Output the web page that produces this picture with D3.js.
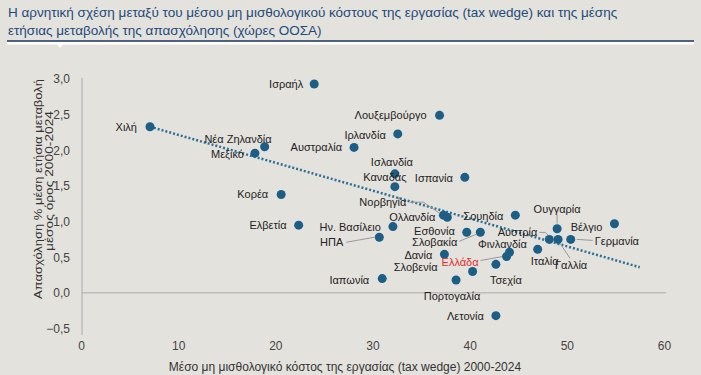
<!DOCTYPE html>
<html>
<head>
	<meta charset="utf-8">
	<title></title>
	<style type="text/css">
		body {
			margin: 0;
			background-color: #e4e2dd;
		}
		svg {
			display: block;
			background-color: #e4e2dd;
			font-family: 'Liberation Sans', Arial, sans-serif;
		}
		.title {
			font-size: 13.5px;
			fill: #1f4a7a;
		}
		.tick text {
			font-size: 12px;
			fill: #444;
		}
		.label {
			font-size: 11px;
			fill: #222;
		}
		.leader {
			stroke: #999;
			stroke-width: 1px;
			fill: none;
		}
	</style>
	<script type="text/javascript" src="https://cdn.jsdelivr.net/npm/d3@7"></script>
</head>
<body>
	<div id='chart'></div>
	<script type="text/javascript">
		var width = 701, height = 375;

		// data
		var countries = ['Χιλή','Ισραήλ','Νέα Ζηλανδία','Μεξικό','Αυστραλία','Ιρλανδία','Λουξεμβούργο','Ισλανδία','Καναδάς','Ισπανία',
			'Κορέα','Ελβετία','Ην. Βασίλειο','ΗΠΑ','Ιαπωνία','Νορβηγία','Ολλανδία','Σουηδία','Εσθονία','Σλοβακία',
			'Αυστρία','Ουγγαρία','Βέλγιο','Γερμανία','Γαλλία','Ιταλία','Φινλανδία','Ελλάδα','Δανία','Σλοβενία',
			'Τσεχία','Πορτογαλία','Λετονία'];
		var taxWedge = [7.1, 24.0, 18.9, 17.9, 28.1, 32.6, 36.9, 32.3, 32.3, 39.5,
			20.6, 22.4, 32.1, 30.7, 31.0, 37.3, 37.7, 44.7, 39.7, 41.1,
			48.2, 49.0, 54.9, 50.4, 49.1, 47.0, 44.1, 43.8, 37.4, 40.3,
			42.7, 38.6, 42.7];
		var employmentChange = [2.33, 2.93, 2.05, 1.96, 2.04, 2.23, 2.49, 1.67, 1.49, 1.62,
			1.38, 0.95, 0.93, 0.78, 0.20, 1.09, 1.06, 1.09, 0.85, 0.85,
			0.75, 0.90, 0.97, 0.75, 0.75, 0.61, 0.57, 0.51, 0.54, 0.30,
			0.40, 0.18, -0.32];
		var trendX = [7.1, 57.5];
		var trendY = [2.33, 0.36];
		var xTicks = [0, 10, 20, 30, 40, 50, 60];
		var yTicks = [-0.5, 0, 0.5, 1, 1.5, 2, 2.5, 3];

		// label placement: [dx, dy, anchor, leader points relative to dot]
		var labelPos = {
			'Χιλή': [-13, 0, 'end'],
			'Ισραήλ': [-11, 0, 'end'],
			'Νέα Ζηλανδία': [7, -8, 'end'],
			'Μεξικό': [-11, 1, 'end'],
			'Αυστραλία': [-12, 0, 'end'],
			'Ιρλανδία': [-12, 1, 'end'],
			'Λουξεμβούργο': [-13, 0, 'end'],
			'Ισλανδία': [-3, -12, 'middle'],
			'Καναδάς': [-10, -10, 'middle'],
			'Ισπανία': [-12, 1, 'end'],
			'Κορέα': [-13, 0, 'end'],
			'Ελβετία': [-12, 0, 'end'],
			'Ην. Βασίλειο': [-12, 0, 'end'],
			'ΗΠΑ': [-36, 5, 'end', [[-33, 5], [-5, 0]]],
			'Ιαπωνία': [-13, 1, 'end'],
			'Νορβηγία': [-37, -13, 'end', [[-34, -13], [-20, -13], [-4, -2]]],
			'Ολλανδία': [-12, 0, 'end'],
			'Σουηδία': [-12, 1, 'end'],
			'Εσθονία': [-12, -1, 'end'],
			'Σλοβακία': [-23, 10, 'end', [[-21, 9], [-4, 2]]],
			'Αυστρία': [-12, -7, 'end', [[-10, -7], [-4, -7], [-1, -4]]],
			'Ουγγαρία': [0, -20, 'middle', [[0, -14], [0, -5]]],
			'Βέλγιο': [-12, 3, 'end'],
			'Γερμανία': [24, 2, 'start', [[6, 0], [22, 1]]],
			'Γαλλία': [13, 26, 'middle', [[2, 4], [12, 19]]],
			'Ιταλία': [7, 12, 'middle'],
			'Φινλανδία': [-7, -8, 'middle'],
			'Ελλάδα': [-28, 5, 'end', [[-26, 4], [-4, 0]]],
			'Δανία': [-12, 1, 'end'],
			'Σλοβενία': [-35, -4, 'end'],
			'Τσεχία': [10, 16, 'middle'],
			'Πορτογαλία': [-4, 16, 'middle'],
			'Λετονία': [-12, 0, 'end']
		};

		var data = countries.map(function(c, i){
			return {name: c, x: taxWedge[i], y: employmentChange[i]};
		});

		var svg = d3.select('#chart')
			.append('svg')
			.attr('width', width)
			.attr('height', height);

		// title
		svg.append('text').attr('class', 'title').attr('x', 8).attr('y', 17)
			.text('Η αρνητική σχέση μεταξύ του μέσου μη μισθολογικού κόστους της εργασίας (tax wedge) και της μέσης');
		svg.append('text').attr('class', 'title').attr('x', 8).attr('y', 35)
			.text('ετήσιας μεταβολής της απασχόλησης (χώρες ΟΟΣΑ)');
		svg.append('rect').attr('x', 7).attr('y', 41.5).attr('width', 687).attr('height', 3).attr('fill', '#fff');
		svg.append('line').attr('x1', 7).attr('x2', 694).attr('y1', 41).attr('y2', 41)
			.attr('stroke', '#1c3560').attr('stroke-width', 1.5);
		svg.append('path').attr('d', 'M55,42 L65,42 L60,48 Z').attr('fill', '#fff');

		var xScale = d3.scaleLinear().domain([0, 60]).range([81, 664]);
		var yScale = d3.scaleLinear().domain([-0.5, 3]).range([328.5, 79]);

		// axes
		var xAxis = d3.axisBottom(xScale).tickValues(xTicks).tickSize(0).tickPadding(0)
			.tickFormat(d3.format('d'));
		svg.append('g').attr('transform', 'translate(0,' + 341 + ')').call(xAxis)
			.call(function(g){ g.select('.domain').remove(); });

		var yAxis = d3.axisLeft(yScale).tickValues(yTicks).tickSize(0).tickPadding(0)
			.tickFormat(function(d){ return d3.format('.1f')(d).replace('.', ','); });
		svg.append('g').attr('transform', 'translate(' + 70 + ',0)').call(yAxis)
			.call(function(g){ g.select('.domain').remove(); });

		svg.append('line').attr('x1', xScale(0) + 1).attr('x2', xScale(0) + 1)
			.attr('y1', 78).attr('y2', 335).attr('stroke', '#aaa');
		svg.append('line').attr('x1', xScale(0) + 1).attr('x2', xScale(60) + 2)
			.attr('y1', yScale(0)).attr('y2', yScale(0)).attr('stroke', '#aaa');

		// axis titles
		svg.append('text').attr('x', 345).attr('y', 371).attr('text-anchor', 'middle')
			.style('font-size', '12px').attr('fill', '#333')
			.text('Μέσο μη μισθολογικό κόστος της εργασίας (tax wedge) 2000-2024');
		svg.append('text').attr('transform', 'translate(42,299) rotate(-90)')
			.attr('textLength', 220).attr('lengthAdjust', 'spacingAndGlyphs')
			.style('font-size', '10px').attr('fill', '#333')
			.text('Απασχόληση % μέση ετήσια μεταβολή');
		svg.append('text').attr('transform', 'translate(53,251) rotate(-90)')
			.attr('textLength', 140).attr('lengthAdjust', 'spacingAndGlyphs')
			.style('font-size', '10px').attr('fill', '#333')
			.text('μέσος όρος 2000-2024');

		// trend line
		svg.append('line')
			.attr('x1', xScale(trendX[0])).attr('y1', yScale(trendY[0]))
			.attr('x2', xScale(trendX[1])).attr('y2', yScale(trendY[1]))
			.attr('stroke', '#2e6f93').attr('stroke-width', 2.5)
			.attr('stroke-dasharray', '2,2');

		// leader lines
		var line = d3.line();
		data.forEach(function(d){
			var p = labelPos[d.name];
			if (p && p[3]) {
				var cx = xScale(d.x), cy = yScale(d.y);
				svg.append('path').attr('class', 'leader')
					.attr('d', line(p[3].map(function(q){ return [cx + q[0], cy + q[1]]; })));
			}
		});

		// dots
		svg.selectAll('.dot')
			.data(data)
			.enter()
			.append('circle')
			.attr('class', 'dot')
			.attr('cx', function(d){ return xScale(d.x); })
			.attr('cy', function(d){ return yScale(d.y); })
			.attr('r', 4.5)
			.attr('fill', '#1d5e86');

		// labels
		svg.selectAll('.label')
			.data(data)
			.enter()
			.append('text')
			.attr('class', 'label')
			.attr('x', function(d){ return xScale(d.x) + labelPos[d.name][0]; })
			.attr('y', function(d){ return yScale(d.y) + labelPos[d.name][1] + 4; })
			.attr('text-anchor', function(d){ return labelPos[d.name][2]; })
			.style('fill', function(d){ return d.name == 'Ελλάδα' ? '#e0302c' : '#222'; })
			.text(function(d){ return d.name; });
	</script>
</body>
</html>
